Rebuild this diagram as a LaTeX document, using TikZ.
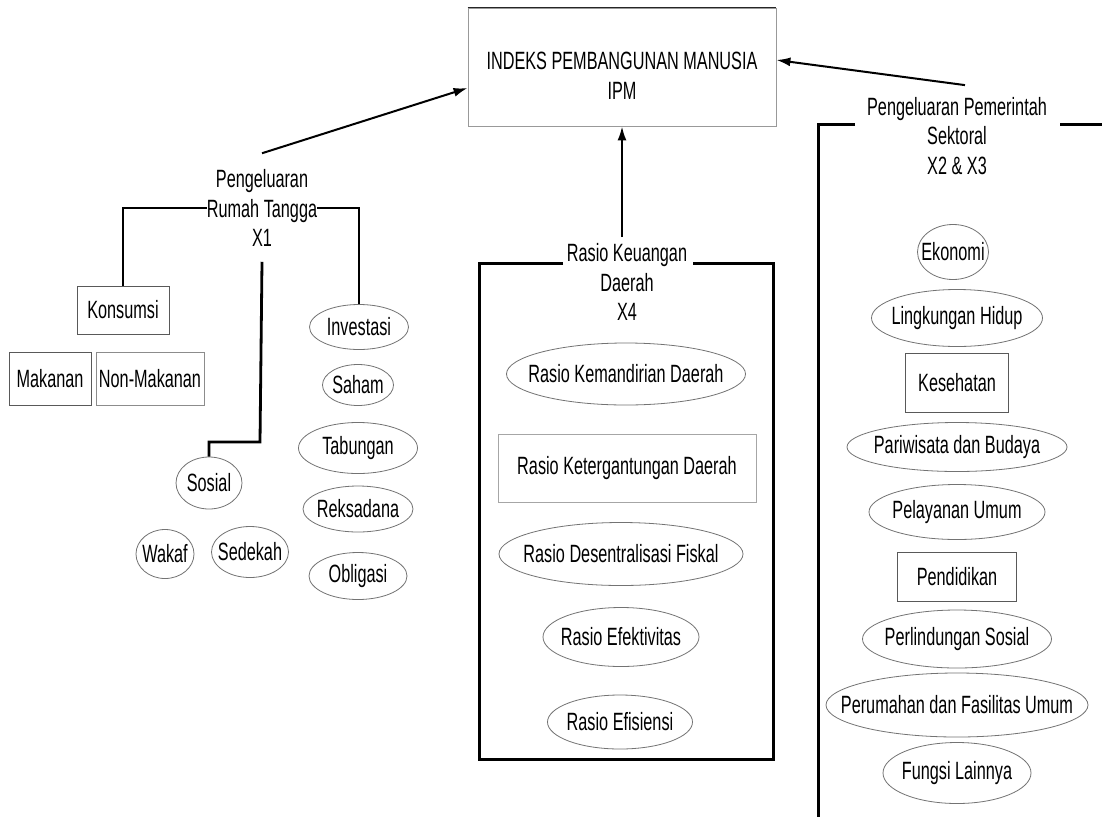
\documentclass[tikz,border=0pt]{standalone}
\usepackage{fontspec}
\setmainfont[FakeStretch=0.65]{Liberation Sans}
\usetikzlibrary{shapes.geometric,arrows.meta,calc}
\newcommand\zt[1]{\makebox[0pt][c]{#1}}
\begin{document}
\begin{tikzpicture}[x=1pt,y=-1pt,
  every node/.style={font=\fontsize{25}{29.5}\selectfont, text=black, inner sep=0pt, align=center},
  ell/.style={ellipse, draw=black!55, line width=0.8pt},
  rbox/.style={rectangle, draw=black!65, line width=0.9pt},
  tree/.style={line width=2.8pt, black},
  frame/.style={line width=3pt, black},
  arr/.style={line width=2pt, black, -{Latex[length=14pt,width=9pt]}}]
\useasboundingbox[fill=white] (0,0) rectangle (1102,817);

% top box
\node[rectangle, draw=black!40, line width=0.8pt, minimum width=308pt, minimum height=118pt] (ipm) at (622,67) {};
\draw[black!85, line width=1.2pt] (ipm.north west) -- (ipm.north east);
\node (ipmt) at (622,76) {INDEKS PEMBANGUNAN MANUSIA\\IPM};

% left branch
\node (ht) at (262,208) {Pengeluaran\\Rumah Tangga\\X1};
\node[rbox, minimum width=92pt, minimum height=48pt] (kons) at (123,310) {Konsumsi};
\node[rbox, minimum width=82pt, minimum height=53pt] (mak) at (50,379) {Makanan};
\node[rbox, draw=black!45, minimum width=108pt, minimum height=53pt] (nmak) at (150,379) {Non-Makanan};
\node[ell, minimum width=99pt, minimum height=45pt] (inv) at (359,327) {\zt{Investasi}};
\node[ell, minimum width=71pt, minimum height=41pt] (sah) at (358,385) {\zt{Saham}};
\node[ell, minimum width=119pt, minimum height=51pt] (tab) at (358,448) {\zt{Tabungan}};
\node[ell, minimum width=110pt, minimum height=46pt] (rek) at (358,509) {\zt{Reksadana}};
\node[ell, minimum width=98pt, minimum height=47pt] (obl) at (358,576) {\zt{Obligasi}};
\node[ell, minimum width=66pt, minimum height=52pt] (sos) at (209,483) {\zt{Sosial}};
\node[ell, minimum width=58pt, minimum height=49pt] (wak) at (165,554) {\zt{Wakaf}};
\node[ell, minimum width=77pt, minimum height=51pt] (sed) at (250,552) {\zt{Sedekah}};

\coordinate (sbend) at (260,442);
\draw[tree] (ht.west) -| (kons.north);
\draw[tree] (ht.east) -| (inv.north);
\draw[tree] ([yshift=-15pt]ht.south) -- (sbend) -| (sos.north);
\draw[arr] ([yshift=16pt]ht.north) -- ([yshift=-21pt]ipm.west);

% middle branch
\node (rkt) at (627,282) {Rasio Keuangan\\Daerah\\X4};
\node[ell, minimum width=239pt, minimum height=62pt] (rkm) at (626,374) {\zt{Rasio Kemandirian Daerah}};
\node[rbox, draw=black!35, minimum width=258pt, minimum height=68pt] (rkg) at (627,468) {Rasio Ketergantungan Daerah};
\node[ell, minimum width=244pt, minimum height=63pt] (rds) at (621,554) {\zt{Rasio Desentralisasi Fiskal}};
\node[ell, minimum width=156pt, minimum height=59pt] (ref) at (621,637) {\zt{Rasio Efektivitas}};
\node[ell, minimum width=145pt, minimum height=54pt] (rfs) at (620,722) {\zt{Rasio Efisiensi}};
\draw[frame] (563,263) -- (479,263) -- (479,759) -- (773,759) -- (773,263) -- (693,263);
\draw[arr] ($(ipm.south |- rkt.north)+(0,-6)$) -- (ipm.south);

% right branch
\node (pgt) at (957,136) {Pengeluaran Pemerintah\\Sektoral\\X2 \& X3};
\node[ell, minimum width=71pt, minimum height=55pt] (eko) at (953,252) {\zt{Ekonomi}};
\node[ell, minimum width=171pt, minimum height=57pt] (lh) at (957,318) {\zt{Lingkungan Hidup}};
\node[rbox, minimum width=103pt, minimum height=59pt] (kes) at (957,383) {Kesehatan};
\node[ell, minimum width=220pt, minimum height=49pt] (pb) at (957,447) {\zt{Pariwisata dan Budaya}};
\node[ell, minimum width=176pt, minimum height=55pt] (pu) at (957,512) {\zt{Pelayanan Umum}};
\node[rbox, minimum width=119pt, minimum height=49pt] (pen) at (957,577) {Pendidikan};
\node[ell, minimum width=189pt, minimum height=58pt] (ps) at (957,639) {\zt{Perlindungan Sosial}};
\node[ell, minimum width=262pt, minimum height=64pt] (pfu) at (957,705) {\zt{Perumahan dan Fasilitas Umum}};
\node[ell, minimum width=148pt, minimum height=61pt] (fl) at (957,773) {\zt{Fungsi Lainnya}};
\draw[frame] (855,124) -- (818,124) -- (818,817);
\draw[frame] (1060,124) -- (1102,124);
\draw[arr] ([xshift=8pt,yshift=12pt]pgt.north) -- ([yshift=7pt]ipm.east);
\end{tikzpicture}
\end{document}
